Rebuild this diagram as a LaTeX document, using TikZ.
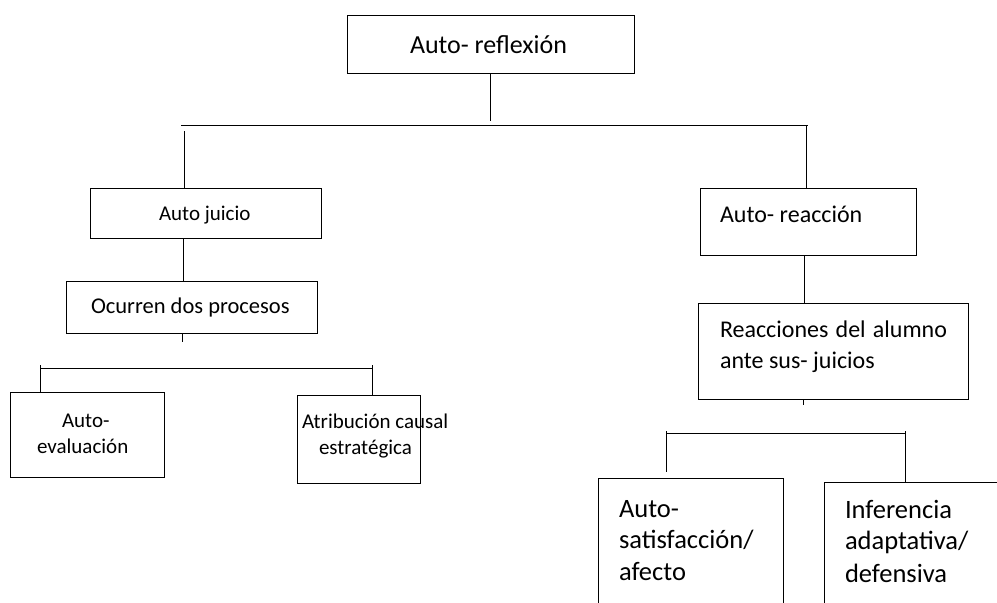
\documentclass[tikz,border=0pt]{standalone}
\usepackage{fontspec}
\setmainfont{Carlito}
\begin{document}
\begin{tikzpicture}[x=1pt,y=-1pt,
  box/.style={draw=black,line width=1pt,inner sep=0pt,outer sep=0pt,anchor=north west},
  lbl/.style={anchor=base west,inner sep=0pt,outer sep=0pt,text=black},
  conn/.style={draw=black,line width=1pt},
  fA/.style={font=\fontsize{26}{31}\selectfont},
  fB/.style={font=\fontsize{21}{26}\selectfont},
  fC/.style={font=\fontsize{22.5}{27}\selectfont},
  fD/.style={font=\fontsize{24}{30}\selectfont},
  fE/.style={font=\fontsize{26.5}{32}\selectfont}]
\useasboundingbox (0,0) rectangle (997,603);
\clip (0,0) rectangle (997,603);
\fill[white] (0,0) rectangle (997,603);
% boxes
\node[box,minimum width=287pt,minimum height=58pt] (top) at (347,15) {};
\node[box,minimum width=231pt,minimum height=50pt] (juicio) at (90,188) {};
\node[box,minimum width=251pt,minimum height=52pt] (ocurren) at (66,281) {};
\node[box,minimum width=154pt,minimum height=85pt] (eval) at (10,392) {};
\node[box,minimum width=123pt,minimum height=88pt] (atrib) at (297,395) {};
\node[box,minimum width=216pt,minimum height=67pt] (reac) at (700,188) {};
\node[box,minimum width=270pt,minimum height=96pt] (reacs) at (698,303) {};
\node[box,minimum width=185pt,minimum height=150pt] (sat) at (598,478) {};
\node[box,minimum width=200pt,minimum height=150pt] (inf) at (824,482) {};
% texts
\node[lbl,fA] (t1) at (410,53) {Auto- reflexión};
\node[lbl,fB] (t2) at (159,220) {Auto juicio};
\node[lbl,fC] (t3) at (91,313) {Ocurren dos procesos};
\node[lbl,fB] (t4a) at (62,427) {Auto-};
\node[lbl,fB] (t4b) at (37,453) {evaluación};
\node[lbl,fB] (t5a) at (302,428) {Atribución causal};
\node[lbl,fB] (t5b) at (319,454) {estratégica};
\node[lbl,fD] (t6) at (720,222) {Auto- reacción};
\node[lbl,fD] (t7a) at (720,337) {\hbox to 227pt{Reacciones\hfil del\hfil alumno}};
\node[lbl,fD] (t7b) at (720,368) {ante sus- juicios};
\node[lbl,fE] (t8a) at (619,517) {Auto-};
\node[lbl,fE] (t8b) at (619,548.5) {satisfacción/};
\node[lbl,fE] (t8c) at (619,580) {afecto};
\node[lbl,fE] (t9a) at (845,518) {Inferencia};
\node[lbl,fE] (t9b) at (845,549) {adaptativa/};
\node[lbl,fE] (t9c) at (845,582) {defensiva};
% connector points
\coordinate (busL) at (181,125.5);
\coordinate (busR) at (808,125.5);
\coordinate (busT) at (490,121);
\coordinate (dL) at (184,131);
\coordinate (dR) at (806,125.5);
\coordinate (st1) at (182,342);
\coordinate (bus2L) at (40,368);
\coordinate (bus2R) at (372,368);
\coordinate (st2) at (803,405);
\coordinate (bus3L) at (666,433);
\coordinate (bus3R) at (905,433);
\coordinate (d3L) at (666,472);
% connectors
\draw[conn] (top.south -| busT) -- (busT);
\draw[conn] (busL) -- (busR);
\draw[conn] (dL) -- (dL |- juicio.north);
\draw[conn] (dR) -- (dR |- reac.north);
\draw[conn] (juicio.south -| 183,0) -- (ocurren.north -| 183,0);
\draw[conn] (ocurren.south -| st1) -- (st1);
\draw[conn] (bus2L) -- (bus2R);
\draw[conn] ([yshift=3pt]bus2L) -- (bus2L |- eval.north);
\draw[conn] ([yshift=3pt]bus2R) -- (bus2R |- atrib.north);
\draw[conn] (reac.south -| 804,0) -- (reacs.north -| 804,0);
\draw[conn] (reacs.south -| st2) -- (st2);
\draw[conn] (bus3L) -- (bus3R);
\draw[conn] ([yshift=2pt]bus3L) -- (d3L);
\draw[conn] ([yshift=2pt]bus3R) -- (bus3R |- inf.north);
\end{tikzpicture}
\end{document}
